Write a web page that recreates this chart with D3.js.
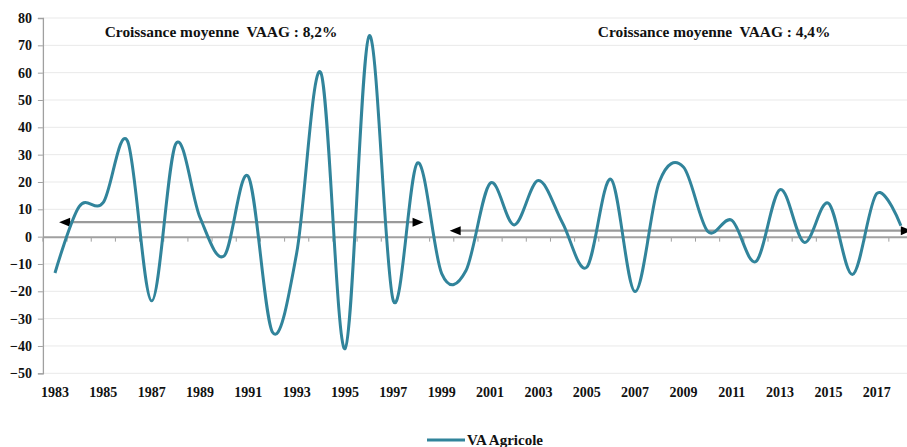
<!DOCTYPE html>
<html><head><meta charset="utf-8">
<script src="https://cdn.jsdelivr.net/npm/d3@7"></script>
<style>
html,body{margin:0;padding:0;background:#fff;overflow:hidden;}
svg{display:block;}
</style></head>
<body>
<svg id="chart" width="907" height="447"></svg>
<script>
const years = ["1983","1984","1985","1986","1987","1988","1989","1990","1991","1992","1993","1994","1995","1996","1997","1998","1999","2000","2001","2002","2003","2004","2005","2006","2007","2008","2009","2010","2011","2012","2013","2014","2015","2016","2017","2018"];
const vaAgricole = [-13.3,11,12.5,35,-23.5,34,7,-7,22,-35,-6,60,-41,73.5,-23.5,27,-13.5,-12.5,19.5,4.3,20.5,5,-11.2,21,-20.1,20,25.5,2,6,-9.1,17.2,-2.1,12.2,-13.8,15.8,4];
const yTicks = [80,70,60,50,40,30,20,10,0,-10,-20,-30,-40,-50];
const seriesName = "VA Agricole";
const annotations = ["Croissance moyenne  VAAG : 8,2%","Croissance moyenne  VAAG : 4,4%"];
const annotationCenters = [1989.87, 2010.27];
const arrowFrom = [1983.17, 1999.33];
const arrowTo = [1998.25, 2018.45];
const arrowLevel = [5.3, 2.2];

const FONT = '"Liberation Serif"';
const svg = d3.select("#chart");
const W = 907;
const x0 = 42.9, step = 24.17;
const x = d3.scaleBand().domain(years).range([x0, x0 + step*years.length]).paddingInner(0).paddingOuter(0);
const xc = d => x(d) + x.bandwidth()/2;
const xYear = d3.scaleLinear().domain([1983, 2018]).range([xc("1983"), xc("2018")]);
const y = d3.scaleLinear().domain([-50, 80]).range([373.3, 18]);

const color = "#31849B";
const setFont = (sel, size) => sel.attr("font-family", null)
  .style("font-family", FONT).style("font-weight", "bold").style("font-size", size + "px").style("fill", "#111");

// gridlines
svg.append("g").selectAll("line").data(yTicks.filter(v=>v!==0)).join("line")
  .attr("x1", x0).attr("x2", W+10)
  .attr("y1", d=>y(d)).attr("y2", d=>y(d))
  .attr("stroke", "#e9e9e9").attr("stroke-width", 1);

// y axis
const yAxis = d3.axisLeft(y).tickValues(yTicks).tickSize(5).tickPadding(6).tickFormat(d3.format("d"));
const gy = svg.append("g").attr("transform", `translate(${x0},0)`).call(yAxis);
gy.attr("font-family", null).attr("font-size", null);
gy.select(".domain").attr("stroke", "#a0a0a0").attr("stroke-width", 1.3);
gy.selectAll(".tick line").attr("stroke", "#a0a0a0");
setFont(gy.selectAll("text"), 14).attr("x", -11);

// x axis at zero (category boundary ticks)
const xAxis = d3.axisBottom(x).tickValues([]).tickSizeOuter(0);
const gx = svg.append("g").attr("transform", `translate(0,${y(0)})`).call(xAxis);
gx.select(".domain").attr("stroke", "#a0a0a0").attr("stroke-width", 2);
gx.selectAll(".bnd").data(years.concat(["end"])).join("line").attr("class","bnd")
  .attr("x1", (d,i)=>x0 + i*step).attr("x2", (d,i)=>x0 + i*step)
  .attr("y1", 1).attr("y2", 5).attr("stroke", "#a0a0a0").attr("stroke-width", 1);

// x labels at bottom
setFont(svg.append("g").selectAll("text").data(years.filter((d,i)=>i%2===0)).join("text")
  .attr("x", d=>xc(d)).attr("y", 397).attr("text-anchor","middle").text(d=>d), 14);

// arrows
const arrowG = svg.append("g");
arrowFrom.forEach((f,i)=>{
  const xa = xYear(f), xb = xYear(arrowTo[i]), yy = y(arrowLevel[i]);
  arrowG.append("line").attr("x1", xa+4).attr("x2", xb-4).attr("y1", yy).attr("y2", yy)
    .attr("stroke", "#9a9a9a").attr("stroke-width", 2.2);
  arrowG.append("path").attr("d", `M${xa},${yy}L${xa+11},${yy-4.5}L${xa+11},${yy+4.5}Z`).attr("fill","#000");
  arrowG.append("path").attr("d", `M${xb},${yy}L${xb-11},${yy-4.5}L${xb-11},${yy+4.5}Z`).attr("fill","#000");
});

// series line
const line = d3.line().x((d,i)=>xc(years[i])).y(d=>y(d)).curve(d3.curveCatmullRom.alpha(0));
svg.append("path").datum(vaAgricole).attr("d", line)
  .attr("fill","none").attr("stroke", color).attr("stroke-width", 3).attr("stroke-linejoin","round");

// annotations
setFont(svg.append("g").selectAll("text").data(annotations).join("text")
  .attr("x", (d,i)=>xYear(annotationCenters[i])).attr("y", 36.5).attr("text-anchor","middle")
  .style("white-space","pre").text(d=>d), 15.4);

// legend
const lg = svg.append("g");
lg.append("line").attr("x1", 427).attr("x2", 465).attr("y1", 440).attr("y2", 440)
  .attr("stroke", color).attr("stroke-width", 3);
setFont(lg.append("text").attr("x", 467).attr("y", 445).text(seriesName), 15);
</script>
</body></html>
